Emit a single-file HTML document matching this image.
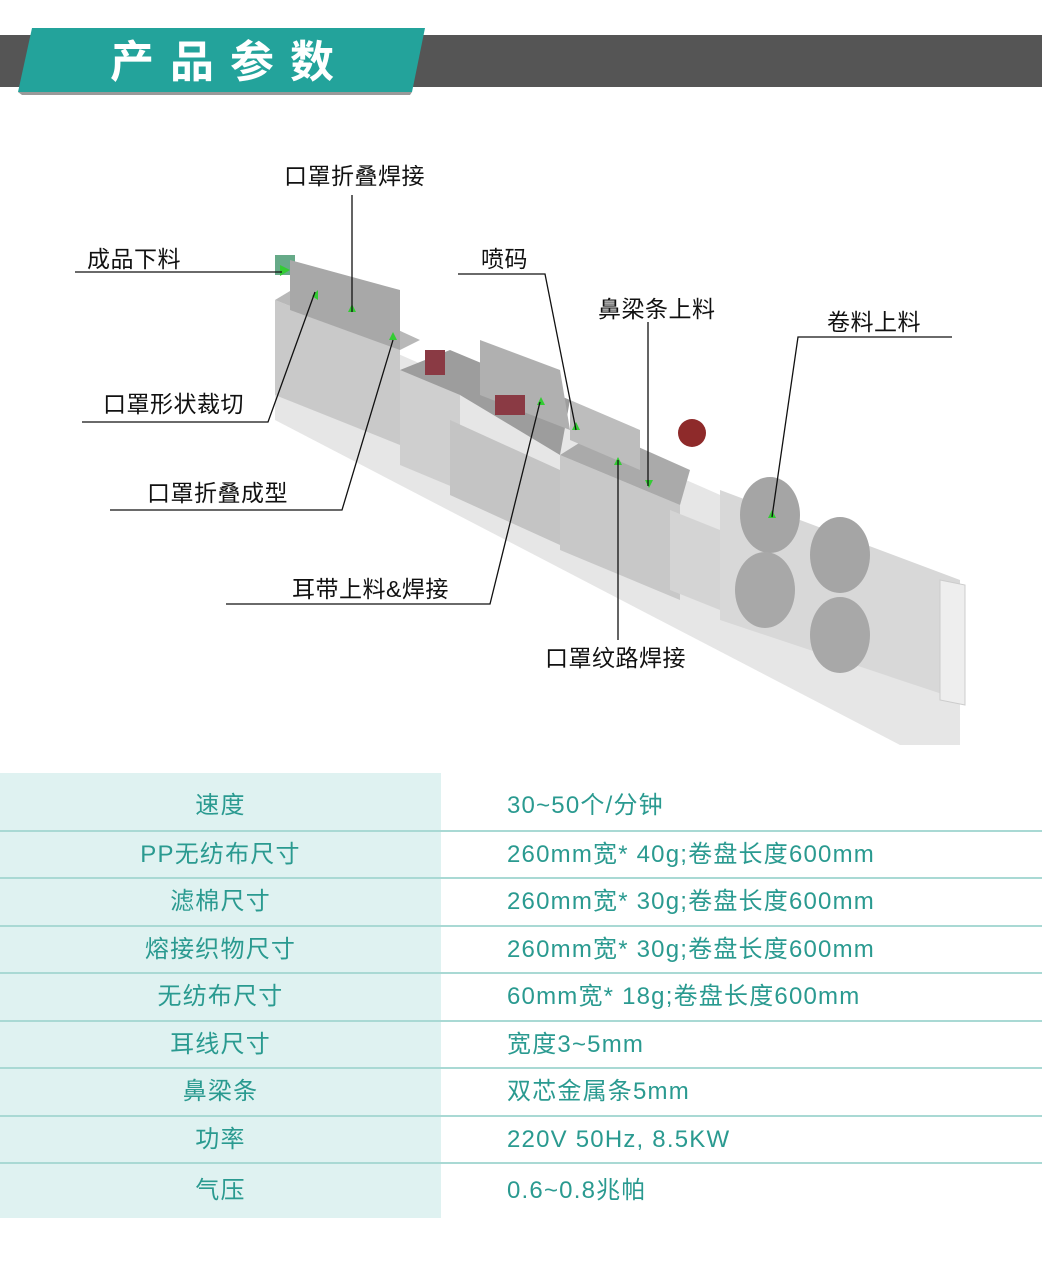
<!DOCTYPE html>
<html><head><meta charset="utf-8"><style>
body{margin:0;width:1042px;height:1275px;background:#fff;position:relative;overflow:hidden;font-family:"Liberation Sans","Noto Sans CJK SC",sans-serif}
.lb{position:absolute;font-size:23px;letter-spacing:0.5px;color:#111;white-space:nowrap;line-height:1}
.row{position:absolute;left:0;width:1042px;height:48px;border-top:2px solid #a9d9d4;box-sizing:border-box}
.row .l{position:absolute;left:0;top:0;width:441px;height:100%;background:#dff2f1}
.row span{position:absolute;font-size:24px;letter-spacing:1.2px;color:#2a9a90;line-height:1;top:50%;transform:translateY(-50%);white-space:nowrap}
.row .a{left:0;width:441px;text-align:center}
.row .b{left:507px}
</style></head><body>
<svg width="1042" height="1275" style="position:absolute;left:0;top:0">
<rect x="0" y="35" width="1042" height="52" fill="#555"/>
<polygon points="32,28 425,28 412,92 18,92" fill="#23a39b"/>
<polygon points="18,92 412,92 410,95 22,95" fill="#333" opacity=".5"/>
<polygon points="275,300 960,600 960,745 900,745 275,420" fill="#e6e6e6"/>
<polygon points="275,300 400,350 400,445 275,395" fill="#c9c9c9"/>
<polygon points="400,370 460,395 460,490 400,465" fill="#cfcfcf"/>
<polygon points="450,420 560,470 560,545 450,495" fill="#c4c4c4"/>
<polygon points="560,455 680,505 680,600 560,550" fill="#c8c8c8"/>
<polygon points="670,510 720,530 720,610 670,590" fill="#d4d4d4"/>
<polygon points="275,300 300,285 420,340 400,350" fill="#b8b8b8"/>
<polygon points="400,370 450,350 570,400 560,455 460,395" fill="#9d9d9d"/>
<polygon points="560,455 600,430 690,470 680,505" fill="#aaa"/>
<rect x="275" y="255" width="20" height="20" fill="#6a8"/>
<polygon points="290,260 400,290 400,350 290,310" fill="#a8a8a8"/>
<polygon points="480,340 560,370 570,430 480,395" fill="#b0b0b0"/>
<polygon points="570,400 640,430 640,470 570,440" fill="#bdbdbd"/>
<circle cx="692" cy="433" r="14" fill="#8e2a2a"/>
<rect x="495" y="395" width="30" height="20" fill="#8a3a44"/>
<rect x="425" y="350" width="20" height="25" fill="#8a3a44"/>
<polygon points="720,490 960,580 960,700 720,620" fill="#d8d8d8"/>
<polygon points="940,580 965,585 965,705 940,700" fill="#eee" stroke="#ccc"/>
<ellipse cx="770" cy="515" rx="30" ry="38" fill="#a5a5a5"/>
<ellipse cx="840" cy="555" rx="30" ry="38" fill="#a5a5a5"/>
<ellipse cx="765" cy="590" rx="30" ry="38" fill="#a8a8a8"/>
<ellipse cx="840" cy="635" rx="30" ry="38" fill="#a8a8a8"/>
<g fill="#3c3">
<polygon points="280,265 290,270 280,276"/><polygon points="312,296 318,290 318,300"/>
<polygon points="348,312 352,304 356,312"/><polygon points="389,340 393,332 397,340"/>
<polygon points="537,405 541,397 545,405"/><polygon points="572,430 576,422 580,430"/>
<polygon points="614,465 618,457 622,465"/><polygon points="645,480 649,488 653,480"/>
<polygon points="768,518 772,510 776,518"/>
</g>
<g stroke="#111" stroke-width="1.3" fill="none">
<polyline points="75,272 282,272"/>
<polyline points="352,195 352,312"/>
<polyline points="82,422 268,422 315,292"/>
<polyline points="110,510 342,510 393,340"/>
<polyline points="226,604 490,604 540,402"/>
<polyline points="458,274 545,274 576,430"/>
<polyline points="648,322 648,486"/>
<polyline points="952,337 798,337 772,517"/>
<polyline points="618,640 618,460"/>
</g>
<text x="110" y="77" font-size="44" font-weight="bold" fill="#fff" letter-spacing="16" font-family="Liberation Sans,Noto Sans CJK SC,sans-serif">产品参数</text>
</svg>
<div class="lb" style="left:87px;top:248px">成品下料</div>
<div class="lb" style="left:284px;top:165px">口罩折叠焊接</div>
<div class="lb" style="left:103px;top:393px">口罩形状裁切</div>
<div class="lb" style="left:147px;top:482px">口罩折叠成型</div>
<div class="lb" style="left:292px;top:578px">耳带上料&amp;焊接</div>
<div class="lb" style="left:481px;top:248px">喷码</div>
<div class="lb" style="left:598px;top:298px">鼻梁条上料</div>
<div class="lb" style="left:827px;top:311px">卷料上料</div>
<div class="lb" style="left:545px;top:647px">口罩纹路焊接</div>

<div class="row" style="top:773px;height:57px;border-top:none"><div class="l"></div><span class="a" style="top:58%">速度</span><span class="b" style="top:58%">30~50个/分钟</span></div>
<div class="row" style="top:830px"><div class="l"></div><span class="a">PP无纺布尺寸</span><span class="b">260mm宽* 40g;卷盘长度600mm</span></div>
<div class="row" style="top:877px"><div class="l"></div><span class="a">滤棉尺寸</span><span class="b">260mm宽* 30g;卷盘长度600mm</span></div>
<div class="row" style="top:925px"><div class="l"></div><span class="a">熔接织物尺寸</span><span class="b">260mm宽* 30g;卷盘长度600mm</span></div>
<div class="row" style="top:972px"><div class="l"></div><span class="a">无纺布尺寸</span><span class="b">60mm宽* 18g;卷盘长度600mm</span></div>
<div class="row" style="top:1020px"><div class="l"></div><span class="a">耳线尺寸</span><span class="b">宽度3~5mm</span></div>
<div class="row" style="top:1067px"><div class="l"></div><span class="a">鼻梁条</span><span class="b">双芯金属条5mm</span></div>
<div class="row" style="top:1115px"><div class="l"></div><span class="a">功率</span><span class="b">220V 50Hz, 8.5KW</span></div>
<div class="row" style="top:1162px;height:56px"><div class="l"></div><span class="a">气压</span><span class="b">0.6~0.8兆帕</span></div>
</body></html>
